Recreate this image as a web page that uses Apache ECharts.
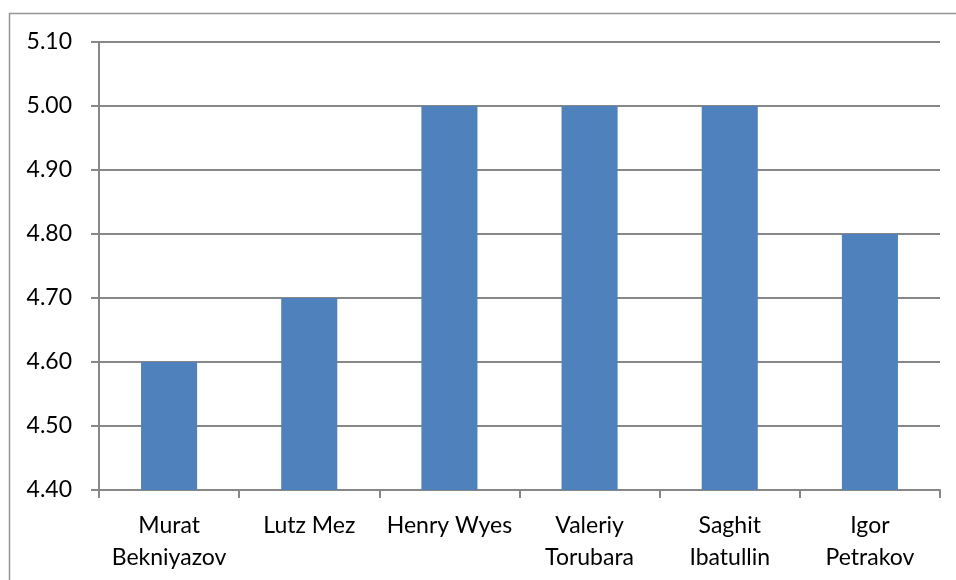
<!DOCTYPE html>
<html><head><meta charset="utf-8">
<script src="https://cdn.jsdelivr.net/npm/echarts@6/dist/echarts.min.js"></script>
<style>html,body{margin:0;padding:0;background:#fff}#c{width:956px;height:580px}</style>
</head><body><div id="c"></div>
<script>
const categories = ['Murat\nBekniyazov', 'Lutz Mez', 'Henry Wyes', 'Valeriy\nTorubara', 'Saghit\nIbatullin', 'Igor\nPetrakov'];
const values = [4.60, 4.70, 5.00, 5.00, 5.00, 4.80];
const yMin = 4.4, yMax = 5.1, yStep = 0.1;

const chart = echarts.init(document.getElementById('c'), null, {renderer: 'canvas'});
const FONT = 'Lato';
const GRAY = '#878787';
chart.setOption({
  animation: false,
  backgroundColor: '#fff',
  graphic: [{
    type: 'rect', shape: {x: 9.5, y: 13.5, width: 1200, height: 1200},
    style: {fill: 'none', stroke: '#959595', lineWidth: 1.5}, silent: true, z: 100
  }],
  grid: {left: 99, right: 16, top: 42, bottom: 90, containLabel: false},
  xAxis: {
    type: 'category', data: categories, boundaryGap: true,
    axisLine: {lineStyle: {color: GRAY, width: 2}},
    axisTick: {show: true, length: 8, lineStyle: {color: GRAY, width: 2}},
    axisLabel: {color: '#000', fontFamily: FONT, fontSize: 23, lineHeight: 32, margin: 20, interval: 0}
  },
  yAxis: {
    type: 'value', min: yMin, max: yMax, interval: yStep,
    axisLine: {show: true, lineStyle: {color: GRAY, width: 2}},
    axisTick: {show: true, length: 8, lineStyle: {color: GRAY, width: 2}},
    splitLine: {lineStyle: {color: GRAY, width: 2}},
    axisLabel: {color: '#000', fontFamily: FONT, fontSize: 23, margin: 27,
      formatter: v => v.toFixed(2)}
  },
  series: [{
    type: 'bar', data: values, barWidth: '40%',
    itemStyle: {color: '#4F81BD'}
  }]
});
</script></body></html>
